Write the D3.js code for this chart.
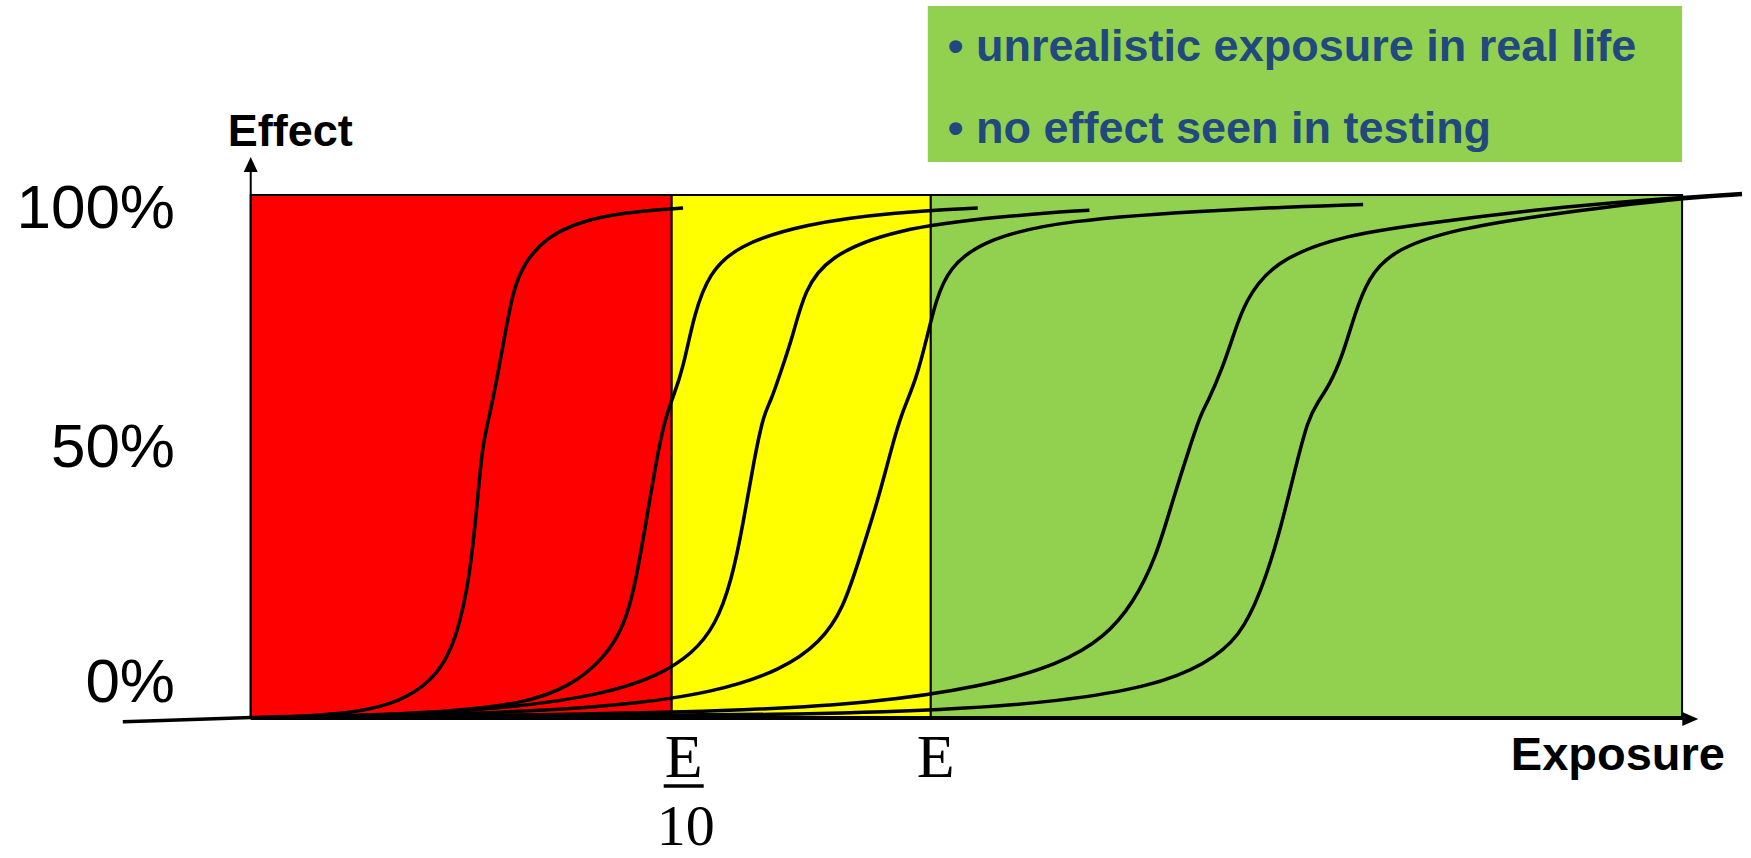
<!DOCTYPE html>
<html>
<head>
<meta charset="utf-8">
<script src="https://cdn.jsdelivr.net/npm/d3@7"></script>
<style>
  html, body { margin: 0; padding: 0; background: #fff; }
  svg { display: block; }
</style>
</head>
<body>
<div id="chart"></div>
<script>
// exposure units (arbitrary) and effect in %
const zoneNames = ['danger', 'margin', 'safe'];
const zoneBounds = [7.9, 33.9, 49.9, 96.3];
const zoneColors = ['#ff0000', '#ffff00', '#92d050'];

const yTickValues = [100, 50, 0];
const yTickLabels = ['100%', '50%', '0%'];

const legendLines = ['• unrealistic exposure in real life', '• no effect seen in testing'];

// dose-response curves: [exposure, effect %]
const curveA = [[0, -0.9], [9.0, 0], [11.7, 0.2], [14.5, 0.9], [17.2, 3.0], [19.0, 6.8], [20.0, 11.1], [20.7, 16.5], [21.4, 26.1], [21.9, 41.1], [22.2, 51.8], [22.6, 57.1], [23.1, 64.6], [23.6, 73.2], [24.1, 81.7], [24.8, 87.1], [26.2, 92.0], [28.3, 95.0], [31.0, 96.7], [34.6, 97.5]];
const curveB = [[8.3, -0.2], [13.1, 0.2], [20.0, 0.9], [24.8, 2.6], [27.6, 5.8], [29.7, 11.1], [31.0, 17.5], [31.7, 26.1], [32.4, 38.9], [33.1, 51.8], [33.6, 58.2], [34.0, 61.4], [34.6, 66.7], [35.3, 77.4], [36.2, 84.9], [37.9, 90.3], [42.1, 94.5], [47.6, 96.7], [52.8, 97.5]];
const curveC = [[9.0, -0.2], [15.2, 0.2], [23.5, 1.5], [29.7, 4.3], [33.1, 7.9], [35.2, 12.2], [36.6, 17.5], [37.6, 26.1], [38.3, 36.8], [39.0, 49.6], [39.6, 58.2], [40.0, 60.3], [40.7, 66.7], [41.4, 73.2], [42.1, 81.7], [43.5, 88.1], [47.6, 93.5], [54.5, 96.0], [59.7, 97.1]];
const curveD = [[9.7, 0], [20.0, 0.4], [30.3, 1.9], [36.6, 4.7], [40.7, 9.0], [43.1, 14.3], [44.5, 20.8], [45.5, 30.4], [46.6, 41.1], [47.5, 51.8], [48.1, 58.2], [49.0, 64.6], [49.7, 73.2], [50.2, 79.6], [51.0, 86.0], [53.1, 91.3], [57.9, 95.2], [68.3, 97.3], [76.6, 98.2]];
const curveE = [[9.7, 0], [26.9, 0.4], [37.2, 1.1], [46.2, 2.6], [53.1, 5.8], [57.9, 10.1], [60.7, 15.4], [62.4, 21.8], [63.8, 30.4], [64.8, 41.1], [65.9, 51.8], [66.6, 58.2], [67.0, 60.3], [67.9, 66.7], [68.6, 73.2], [69.3, 79.6], [71.0, 87.1], [75.2, 92.4], [82.1, 95.2], [89.0, 97.8], [95.9, 99.5], [100, 100.3]];
const curveF = [[9.7, 0], [26.9, 0.2], [40.7, 0.4], [51.0, 1.3], [57.9, 3.0], [63.5, 5.8], [66.9, 10.1], [69.0, 15.4], [70.3, 24.0], [71.4, 34.7], [72.4, 47.5], [73.2, 57.1], [73.8, 60.3], [74.5, 63.5], [75.3, 68.9], [76.1, 77.4], [76.9, 83.9], [78.3, 89.2], [82.1, 93.5], [89.0, 96.7], [95.9, 99.3], [100, 100.1]];
const curves = [curveA, curveB, curveC, curveD, curveE, curveF];

const width = 1751, height = 858;

const svg = d3.select('#chart').append('svg')
    .attr('width', width)
    .attr('height', height);

const x = d3.scaleLinear().domain([0, 100]).range([122.8, 1742]);
const y = d3.scaleLinear().domain([0, 100]).range([717, 195]);

const axisX0 = zoneBounds[0];
const axisXEnd = 97.3;
const axisYTop = 107.3;

// coloured zones
svg.append('g').selectAll('rect')
    .data(zoneNames)
    .join('rect')
    .attr('x', (d, i) => x(zoneBounds[i]))
    .attr('y', y(100))
    .attr('width', (d, i) => x(zoneBounds[i + 1]) - x(zoneBounds[i]))
    .attr('height', y(0) - y(100))
    .attr('fill', (d, i) => zoneColors[i])
    .attr('stroke', '#000')
    .attr('stroke-width', 2);

// legend box
const legend = svg.append('g');
legend.append('rect')
    .attr('x', x(zoneBounds[2]) - 3)
    .attr('y', 6)
    .attr('width', x(zoneBounds[3]) - x(zoneBounds[2]) + 3)
    .attr('height', 156)
    .attr('fill', zoneColors[2]);
legend.selectAll('text')
    .data(legendLines)
    .join('text')
    .attr('x', x(zoneBounds[2]) + 17)
    .attr('y', (d, i) => 61 + i * 82)
    .attr('font-family', '"Liberation Sans", Arial, sans-serif')
    .attr('font-weight', 'bold')
    .attr('font-size', 45)
    .attr('fill', '#22497e')
    .text(d => d);

// curves
const line = d3.line()
    .x(d => x(d[0]))
    .y(d => y(d[1]))
    .curve(d3.curveBasis);

svg.append('g').selectAll('path')
    .data(curves)
    .join('path')
    .attr('d', line)
    .attr('fill', 'none')
    .attr('stroke', '#000')
    .attr('stroke-width', 3.5)
    .attr('stroke-linecap', 'butt');

// axes with arrow heads
const axes = svg.append('g');
axes.append('line')
    .attr('x1', x(axisX0)).attr('y1', y(0) + 2)
    .attr('x2', x(axisX0)).attr('y2', y(axisYTop) + 12)
    .attr('stroke', '#000').attr('stroke-width', 2);
axes.append('path')
    .attr('d', `M${x(axisX0)},${y(axisYTop)} l-7,15 l14,0 z`)
    .attr('fill', '#000');
axes.append('line')
    .attr('x1', x(axisX0)).attr('y1', y(0) + 2)
    .attr('x2', x(axisXEnd) - 12).attr('y2', y(0) + 2)
    .attr('stroke', '#000').attr('stroke-width', 2);
axes.append('path')
    .attr('d', `M${x(axisXEnd)},${y(0) + 2} l-16,-7 l0,14 z`)
    .attr('fill', '#000');

// y tick labels
const tickDy = [33, 11, -15];
svg.append('g').selectAll('text')
    .data(yTickValues)
    .join('text')
    .attr('x', 175)
    .attr('y', (d, i) => y(d) + tickDy[i])
    .attr('text-anchor', 'end')
    .attr('font-family', '"Liberation Sans", Arial, sans-serif')
    .attr('font-size', 62)
    .attr('fill', '#000')
    .text((d, i) => yTickLabels[i]);

// axis titles
svg.append('text')
    .attr('x', x(axisX0) - 23)
    .attr('y', 146)
    .attr('font-family', '"Liberation Sans", Arial, sans-serif')
    .attr('font-weight', 'bold')
    .attr('font-size', 45)
    .text('Effect');
svg.append('text')
    .attr('x', 1725)
    .attr('y', 770)
    .attr('text-anchor', 'end')
    .attr('font-family', '"Liberation Sans", Arial, sans-serif')
    .attr('font-weight', 'bold')
    .attr('font-size', 47)
    .text('Exposure');

// E/10 and E marks under the zone borders
const serif = '"Liberation Serif", "Times New Roman", serif';
const eTenX = x(zoneBounds[1]) + 12;
const eX = x(zoneBounds[2]) + 5;
svg.append('text')
    .attr('x', eTenX).attr('y', 777)
    .attr('text-anchor', 'middle')
    .attr('font-family', serif).attr('font-size', 62)
    .text('E');
svg.append('line')
    .attr('x1', eTenX - 20).attr('x2', eTenX + 20)
    .attr('y1', 786).attr('y2', 786)
    .attr('stroke', '#000').attr('stroke-width', 3.5);
svg.append('text')
    .attr('x', eTenX + 2).attr('y', 845)
    .attr('text-anchor', 'middle')
    .attr('font-family', serif).attr('font-size', 58)
    .text('10');
svg.append('text')
    .attr('x', eX).attr('y', 777)
    .attr('text-anchor', 'middle')
    .attr('font-family', serif).attr('font-size', 62)
    .text('E');
</script>
</body>
</html>
